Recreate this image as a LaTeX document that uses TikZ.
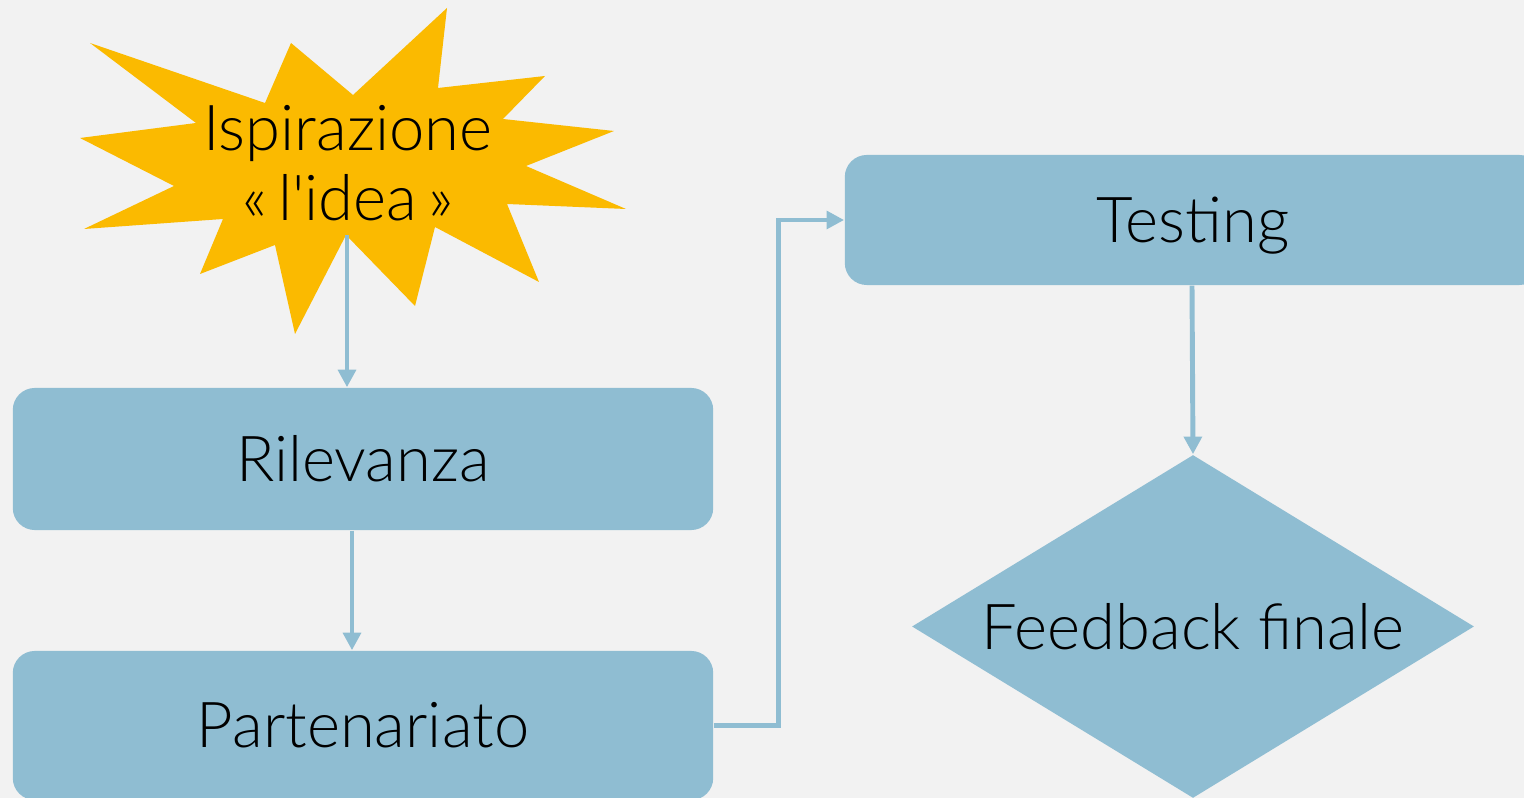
\documentclass[tikz,border=0pt]{standalone}
\usepackage{fontspec}
\setmainfont{Lato Light}
\usetikzlibrary{shapes.geometric,arrows.meta}
\definecolor{bgGray}{RGB}{242,242,242}
\definecolor{boxBlue}{RGB}{143,189,210}
\definecolor{starGold}{RGB}{251,186,0}

\begin{document}
\begin{tikzpicture}[x=0.01cm, y=-0.01cm,
  every node/.style={font=\fontsize{18}{22}\selectfont, text=black},
  box/.style={fill=boxBlue, rounded corners=0.22cm, minimum width=7cm, minimum height=1.42cm, inner sep=0pt},
  link/.style={draw=boxBlue, line width=1.4pt, -{Triangle[length=5pt,width=5pt]}}]
\fill[bgGray] (0,0) rectangle (1524,798);
\useasboundingbox (0,0) rectangle (1524,798);

% the burst
\fill[starGold] (90,43) -- (265,103) -- (291,43) -- (353,95) -- (447,8) -- (438,88)
  -- (545,76) -- (503,119) -- (614,131) -- (526,166) -- (626,209) -- (507,204)
  -- (539,282) -- (435,227) -- (415,306) -- (346,235) -- (295,334) -- (275,245)
  -- (200,274) -- (223,219) -- (84,229) -- (174,186) -- (80,138) -- (196,123) -- cycle;
\node[align=center] (idea) at (348,163) {Ispirazione\\[-2pt]«\,l\textquotesingle idea\,»};
\coordinate (ideafoot) at (347,235);

% left column
\node[box] (rel) at (363,459) {Rilevanza};
\node[box, minimum height=1.49cm] (part) at (363,725.5) {Partenariato};

% right column
\node[box, minimum width=6.96cm, minimum height=1.30cm, text depth=0pt] (test) at (1193,220) {Testing};
\node[diamond, fill=boxBlue, inner sep=0pt, aspect=1.64, minimum width=5.62cm, minimum height=3.43cm] (fb) at (1193,626.5) {Feedback finale};

\draw[link] (ideafoot) -- (ideafoot |- rel.north);
\draw[link] ([xshift=-0.11cm]rel.south) -- ([xshift=-0.11cm]part.north);
\draw[link] (part.east) -- ++(65,0) |- (test.west);
\draw[link] ([xshift=-0.01cm]test.south) -- (fb.north);
\end{tikzpicture}
\end{document}
